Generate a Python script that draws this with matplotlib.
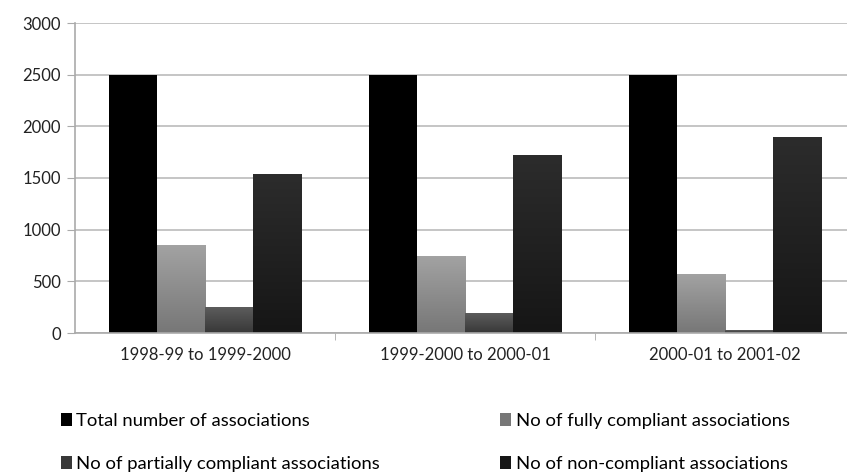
import matplotlib
matplotlib.use('Agg')
import matplotlib.pyplot as plt
import numpy as np
from matplotlib.colors import LinearSegmentedColormap

periods = ['1998-99 to 1999-2000', '1999-2000 to 2000-01', '2000-01 to 2001-02']
series_names = ['Total number of associations',
                'No of fully compliant associations',
                'No of partially compliant associations',
                'No of non-compliant associations']
total = [2500, 2500, 2500]
fully = [850, 745, 570]
partial = [250, 190, 20]
non_compliant = [1530, 1720, 1890]

# top / bottom shades of each series (excel style gradient)
shades = [('#000000', '#000000'),
          ('#a2a2a2', '#777777'),
          ('#5c5c5c', '#383838'),
          ('#2c2c2c', '#161616')]

plt.rcParams['font.family'] = ['Lato', 'DejaVu Sans']

fig = plt.figure(figsize=(8.47, 4.75), dpi=100)
ax = fig.add_axes([75 / 847, 142 / 475, 780 / 847, 310 / 475])

x = np.arange(len(periods))
w = 0.185
data = [total, fully, partial, non_compliant]
handles = []
for i, vals in enumerate(data):
    pos = x - 1.5 * w + i * w
    bars = ax.bar(pos, vals, width=w, color=shades[i][1], label=series_names[i],
                  zorder=2, linewidth=0)
    handles.append(bars)
    if shades[i][0] != shades[i][1]:
        cmap = LinearSegmentedColormap.from_list('g%d' % i, [shades[i][1], shades[i][0]])
        grad = np.linspace(0, 1, 64).reshape(-1, 1)
        for b in bars:
            bx, by = b.get_x(), b.get_y()
            ax.imshow(grad, extent=[bx, bx + b.get_width(), by, by + b.get_height()],
                      origin='lower', cmap=cmap, aspect='auto', zorder=2.5)

ax.set_xlim(-0.5, 2.5)
ax.set_ylim(0, 3000)
ax.set_yticks(range(0, 3001, 500))
ax.set_xticks(x)
ax.set_xticklabels(periods)
ax.set_xticks([0.5, 1.5, 2.5], minor=True)
ax.tick_params(axis='x', which='major', length=0, pad=10, labelsize=12, colors='#222222')
ax.tick_params(axis='x', which='minor', length=5, color='#aaaaaa')
ax.tick_params(axis='y', length=6, labelsize=12, colors='#222222', pad=4)
ax.tick_params(axis='y', color='#aaaaaa')
ax.yaxis.grid(True, color='#bbbbbb', linewidth=1.2, zorder=0)
ax.set_axisbelow(True)
for s in ['top', 'right']:
    ax.spines[s].set_visible(False)
ax.spines['left'].set_color('#aaaaaa')
ax.spines['bottom'].set_color('#aaaaaa')
ax.spines['left'].set_linewidth(1.2)
ax.spines['bottom'].set_linewidth(1.2)

# legend fills column by column, reference reads row by row
order = [0, 2, 1, 3]
fig.legend(handles=[handles[k] for k in order], labels=[series_names[k] for k in order],
           ncol=2, loc='upper left',
           bbox_to_anchor=(44 / 847, 1 - 396 / 475), frameon=False,
           fontsize=13.3, handlelength=0.6, handleheight=0.7, handletextpad=0.25,
           labelspacing=1.5, columnspacing=6.5)

fig.savefig('out.png', dpi=100)
